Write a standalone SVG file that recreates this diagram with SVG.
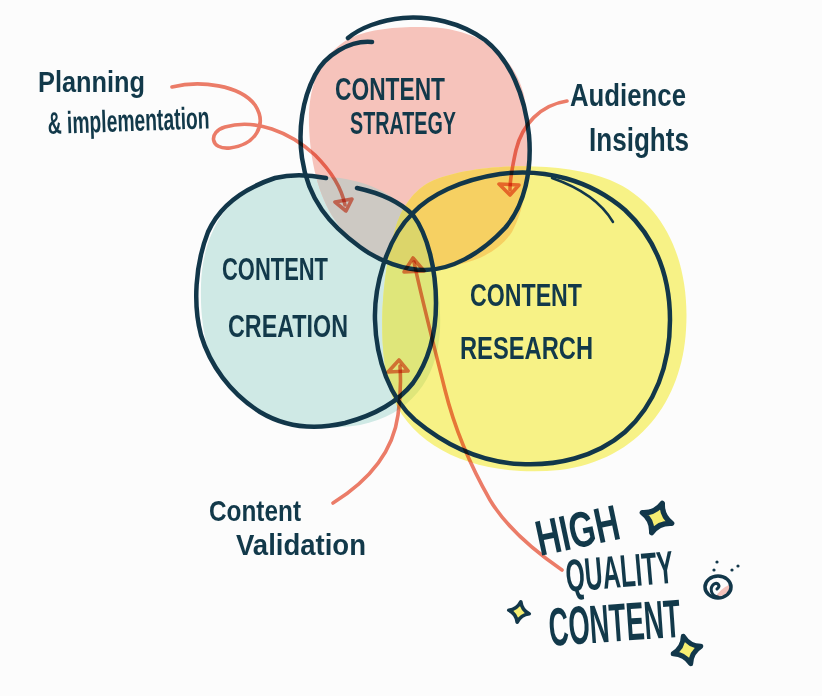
<svg xmlns="http://www.w3.org/2000/svg" xmlns:xlink="http://www.w3.org/1999/xlink" width="822" height="696" viewBox="0 0 822 696">
<style>
.ol{fill:none;stroke:#12374a;stroke-width:4.5;stroke-linecap:round;stroke-linejoin:round}
.ar{fill:none;stroke:#ee7d69;stroke-width:3.6;stroke-linecap:round;stroke-linejoin:round;mix-blend-mode:multiply}
.lb{font-family:"Liberation Sans","DejaVu Sans",sans-serif;font-weight:bold;fill:#12394a}
.sp{fill:#f6ee72;stroke:#12374a;stroke-width:4.5;stroke-linejoin:round}
</style>
<defs>
<path id="pk" d="M 420,27 C 470,26 512,48 524,95 C 534,140 530,200 512,232 C 495,258 460,268 425,268 C 390,268 355,250 335,220 C 318,195 310,160 309,125 C 308,85 320,55 350,38 C 370,29 395,27 420,27 Z"/>
<path id="tl" d="M 300,177 C 340,174 375,182 400,203 C 430,230 442,285 440,330 C 437,380 410,415 360,425 C 310,433 260,420 230,390 C 205,362 200,320 201,285 C 202,240 222,205 250,188 C 265,180 280,177 300,177 Z"/>
<path id="yl" d="M 430,182 C 470,163 560,160 610,180 C 670,205 690,270 686,330 C 682,400 640,460 560,470 C 480,478 410,450 390,390 C 378,350 380,280 395,230 C 402,205 415,190 430,182 Z"/>
<clipPath id="cpPk"><use xlink:href="#pk"/></clipPath>
<clipPath id="cpTl"><use xlink:href="#tl"/></clipPath>
<path id="star" d="M 0,-13 Q 3,-3 13,0 Q 3,3 0,13 Q -3,3 -13,0 Q -3,-3 0,-13 Z"/>
</defs>
<rect width="822" height="696" fill="#fcfcfc"/>
<g id="fills">
<use xlink:href="#tl" fill="#cfe9e5"/>
<use xlink:href="#pk" fill="#f6c3bb"/>
<use xlink:href="#yl" fill="#f7f286"/>
<g clip-path="url(#cpPk)"><use xlink:href="#tl" fill="#cdc9c3"/></g>
<g clip-path="url(#cpPk)"><use xlink:href="#yl" fill="#f6d062"/></g>
<g clip-path="url(#cpTl)"><use xlink:href="#yl" fill="#dfe67a"/></g>
<g clip-path="url(#cpPk)"><g clip-path="url(#cpTl)"><use xlink:href="#yl" fill="#dcd56a"/></g></g>
</g>
<g id="strategy">
<path class="ol" d="M 372,42 C 350,40 325,55 315,75 C 302,100 298,130 302,158 C 308,200 330,225 360,247 C 380,262 405,270 425,270 C 450,270 480,255 505,228 C 525,205 532,170 529,135 C 525,95 510,60 485,40 C 460,22 430,16 403,18 C 380,20 360,28 348,38"/>
<text class="lb" x="335" y="100" font-size="32" textLength="110" lengthAdjust="spacingAndGlyphs">CONTENT</text>
<text class="lb" x="350" y="134" font-size="32" textLength="106" lengthAdjust="spacingAndGlyphs">STRATEGY</text>
</g>
<g id="creation">
<path class="ol" d="M 357,188 C 380,193 400,202 413,215 C 428,235 436,270 436,303 C 436,335 428,362 413,383 C 398,402 375,415 345,423 C 315,430 285,427 260,412 C 230,393 210,365 201,335 C 193,305 195,265 208,232 C 220,205 245,188 275,178 C 292,174 310,175 326,178"/>
<text class="lb" x="222" y="280" font-size="32" textLength="106" lengthAdjust="spacingAndGlyphs">CONTENT</text>
<text class="lb" x="228" y="337" font-size="32" textLength="120" lengthAdjust="spacingAndGlyphs">CREATION</text>
</g>
<g id="research">
<path class="ol" d="M 413,213 C 430,195 460,180 500,174 C 545,168 590,180 625,210 C 655,238 670,275 670,320 C 670,365 655,405 625,432 C 595,458 555,466 520,464 C 480,462 445,445 415,420 C 390,398 376,360 375,320 C 374,290 385,240 413,213 Z"/>
<path class="ol" style="stroke-width:2.5" d="M 552,178 C 575,186 600,200 613,222"/>
<text class="lb" x="470" y="306" font-size="32" textLength="112" lengthAdjust="spacingAndGlyphs">CONTENT</text>
<text class="lb" x="460" y="359" font-size="32" textLength="133" lengthAdjust="spacingAndGlyphs">RESEARCH</text>
</g>
<g id="connectors">
<path class="ar" d="M 172,87 C 200,80 240,85 255,105 C 268,125 255,145 230,148 C 210,150 208,132 225,127 C 255,118 290,132 315,155 C 332,172 342,190 345,205"/>
<path class="ar" d="M 335,202 L 352,199 L 346,211 Z"/>
<path class="ar" d="M 567,101 C 540,105 522,125 516,150 C 512,168 510,178 510,190"/>
<path class="ar" d="M 499,184 L 519,185 L 510,195 Z"/>
<path class="ar" d="M 333,503 C 370,480 393,452 398,415 C 401,395 401,382 400,366"/>
<path class="ar" d="M 388,372 L 399,360 L 408,371 Z"/>
<path class="ar" d="M 562,570 C 530,548 505,525 490,500 C 470,465 455,430 445,390 C 435,350 422,300 414,262"/>
<path class="ar" d="M 404,272 L 413,258 L 424,271 Z"/>
</g>
<g id="planning">
<text class="lb" x="38" y="92" font-size="30" textLength="107" lengthAdjust="spacingAndGlyphs">Planning</text>
<text class="lb" x="48" y="134" font-size="31" textLength="162" lengthAdjust="spacingAndGlyphs" transform="rotate(-2 48 134)">&amp; implementation</text>
</g>
<g id="audience">
<text class="lb" x="570" y="106" font-size="32" textLength="116" lengthAdjust="spacingAndGlyphs">Audience</text>
<text class="lb" x="589" y="151" font-size="34" textLength="100" lengthAdjust="spacingAndGlyphs">Insights</text>
</g>
<g id="validation">
<text class="lb" x="209" y="521" font-size="30" textLength="92" lengthAdjust="spacingAndGlyphs">Content</text>
<text class="lb" x="236" y="555" font-size="30" textLength="130" lengthAdjust="spacingAndGlyphs">Validation</text>
</g>
<g id="quality">
<text class="lb" x="540" y="556" font-size="50" textLength="84" lengthAdjust="spacingAndGlyphs" transform="rotate(-12 540 556)">HIGH</text>
<text class="lb" x="567" y="592" font-size="46" textLength="108" lengthAdjust="spacingAndGlyphs" transform="rotate(-5 567 592)">QUALITY</text>
<text class="lb" x="550" y="646" font-size="54" textLength="132" lengthAdjust="spacingAndGlyphs" transform="rotate(-4 550 646)">CONTENT</text>
<use xlink:href="#star" class="sp" transform="translate(657,518) rotate(20) scale(1.2)"/>
<use xlink:href="#star" class="sp" transform="translate(519,612) rotate(10) scale(0.8)"/>
<use xlink:href="#star" class="sp" transform="translate(687,650) rotate(-15) scale(1.1)"/>
<g id="face">
<path d="M 716,596 C 724,597 730,592 731,584 C 726,586 720,590 716,596 Z" fill="#f4c2bb"/>
<ellipse cx="718" cy="587" rx="13" ry="11" fill="none" stroke="#12374a" stroke-width="3.5"/>
<path d="M 718,597 C 711,596 709,588 714,584 C 718,582 721,586 717,589" fill="none" stroke="#12374a" stroke-width="3" stroke-linecap="round"/>
<circle cx="717" cy="562" r="1.6" fill="#12374a"/>
<circle cx="714" cy="570" r="1.6" fill="#12374a"/>
<circle cx="732" cy="570" r="1.6" fill="#12374a"/>
<circle cx="738" cy="566" r="1.6" fill="#12374a"/>
</g>
</g>
</svg>
